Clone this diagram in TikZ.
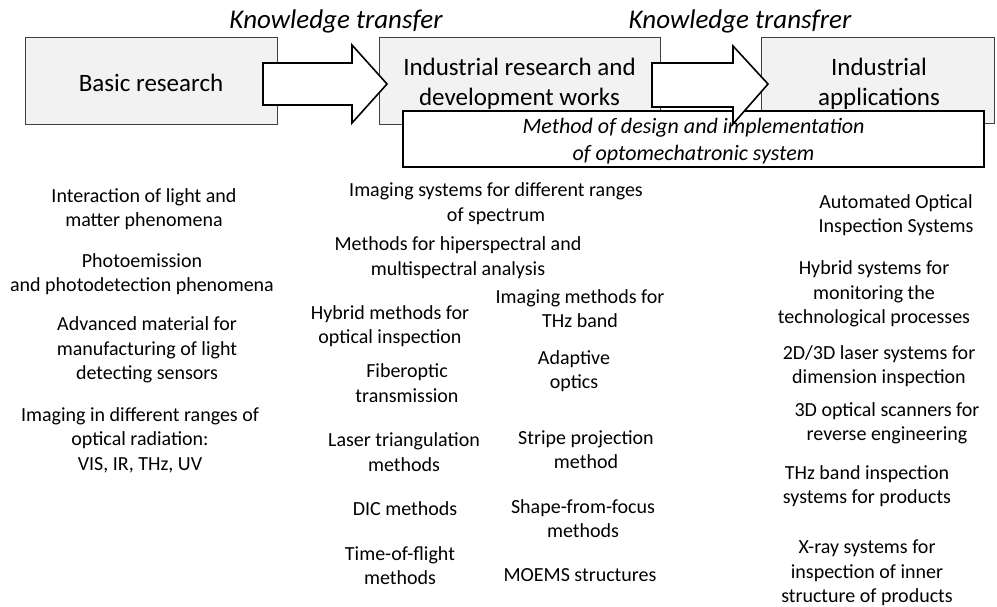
\documentclass[tikz,border=0pt]{standalone}
\usepackage{fontspec}
\setmainfont{Carlito}
\definecolor{boxfill}{HTML}{F2F2F2}
\definecolor{boxline}{HTML}{404040}
\begin{document}
\begin{tikzpicture}[x=1pt,y=-1pt,
  stagebox/.style={draw=boxline,line width=1pt,fill=boxfill},
  stagetext/.style={inner sep=0pt,align=center,font=\fontsize{25}{30}\selectfont,yshift=-2pt},
  titletext/.style={inner sep=0pt,font=\fontsize{27}{32}\selectfont\itshape},
  methodbox/.style={draw=black,line width=1.8pt,fill=white},
  methodtext/.style={inner sep=0pt,align=center,font=\fontsize{22}{27}\selectfont\itshape},
  bigarrow/.style={draw=black,line width=1.6pt,fill=white,line join=miter},
  item/.style={inner sep=0pt,align=center,font=\fontsize{20}{24.5}\selectfont,yshift=-2pt}]
\useasboundingbox (0,0) rectangle (997,606);
\clip (0,0) rectangle (997,606);
% stage boxes
\draw[stagebox] (25,37) rectangle (277,124);
\draw[stagebox] (379,37) rectangle (660,124);
\draw[stagebox] (761,37) rectangle (994,123);
\node[stagetext] (basic) at (151,81) {Basic research};
\node[stagetext] (indres) at (519.5,82) {Industrial research and\\development works};
\node[stagetext] (indapp) at (879,82) {Industrial\\applications};
% method box
\draw[methodbox] (403,111) rectangle (984,167);
% arrows
\draw[bigarrow] (263,63) -- (352,63) -- (352,45) -- (387,84) -- (352,123) -- (352,105) -- (263,105) -- cycle;
\draw[bigarrow] (652,63) -- (733,63) -- (733,46) -- (768,84) -- (733,124) -- (733,107) -- (652,107) -- cycle;
\node[methodtext] (method) at (693.5,141) {Method of design and implementation\\of optomechatronic system};
% titles
\node[titletext] (kt1) at (336,21) {Knowledge transfer};
\node[titletext] (kt2) at (740,21) {Knowledge transfrer};
% left column
\node[item] (l1) at (144,207) {Interaction of light and\\matter phenomena};
\node[item] (l2) at (142,272) {Photoemission\\and photodetection phenomena};
\node[item] (l3) at (147,348) {Advanced material for\\manufacturing of light\\detecting sensors};
\node[item] (l4) at (140,438) {Imaging in different ranges of\\optical radiation:\\VIS, IR, THz, UV};
% middle column
\node[item] (m1) at (496,201.5) {Imaging systems for different ranges\\of spectrum};
\node[item] (m2) at (458,255.5) {Methods for hiperspectral and\\multispectral analysis};
\node[item] (m3) at (580,306.5) {Imaging methods for\\THz band};
\node[item] (m4) at (390,324) {Hybrid methods for\\optical inspection};
\node[item] (m5) at (407,381) {Fiberoptic\\transmission};
\node[item] (m6) at (574,369) {Adaptive\\optics};
\node[item] (m7) at (404,450) {Laser triangulation\\methods};
\node[item] (m8) at (586,447.5) {Stripe projection\\method};
\node[item] (m9) at (405,507) {DIC methods};
\node[item] (m10) at (583,516.5) {Shape-from-focus\\methods};
\node[item] (m11) at (400,563.5) {Time-of-flight\\methods};
\node[item] (m12) at (580,573) {MOEMS structures};
% right column
\node[item] (r1) at (896,213) {Automated Optical\\Inspection Systems};
\node[item] (r2) at (874,292) {Hybrid systems for\\monitoring the\\technological processes};
\node[item] (r3) at (879,364) {2D/3D laser systems for\\dimension inspection};
\node[item] (r4) at (887,421.5) {3D optical scanners for\\reverse engineering};
\node[item] (r5) at (867,484) {THz band inspection\\systems for products};
\node[item] (r6) at (867,571) {X-ray systems for\\inspection of inner\\structure of products};
\end{tikzpicture}
\end{document}
